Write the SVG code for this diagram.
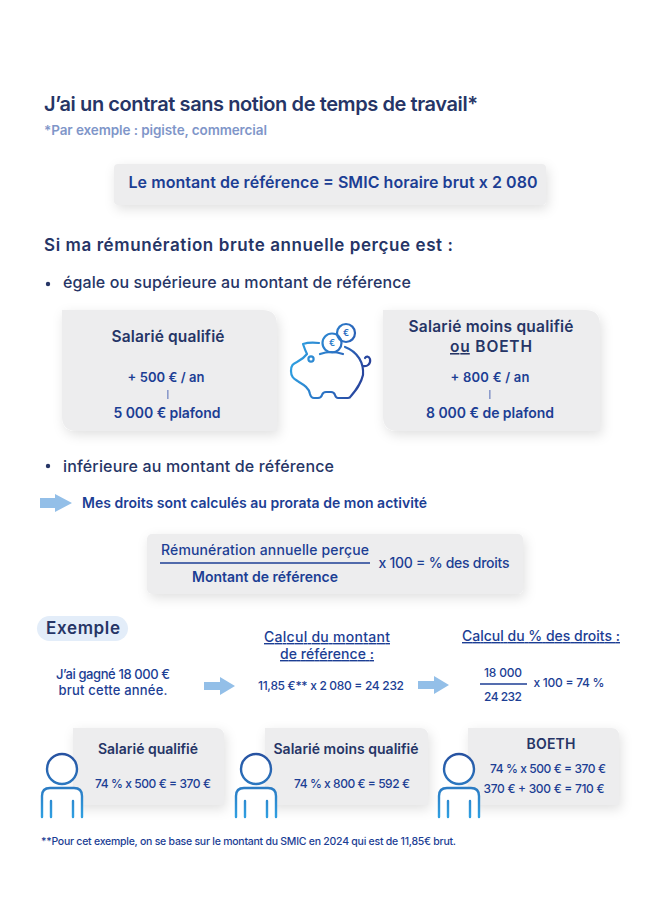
<svg xmlns="http://www.w3.org/2000/svg" width="660" height="910" viewBox="0 0 660 910">
<style>
text{font-family:"Inter","Noto Sans","Liberation Sans",sans-serif;font-weight:600;fill:#1c3e94;text-anchor:middle}
.h{fill:#263566}
.l{text-anchor:start}
.m{font-weight:500}
.box{fill:#ededee;filter:url(#sh)}
.rule{stroke:#1c3e94;fill:none}
.ar{fill:#93bfe8}
</style>
<defs>
<filter id="sh" x="-20%" y="-30%" width="140%" height="170%"><feDropShadow dx="2" dy="4" stdDeviation="6" flood-color="#000" flood-opacity=".12"/></filter>
<linearGradient id="pg" gradientUnits="userSpaceOnUse" x1="290" y1="360" x2="372" y2="385"><stop offset="0" stop-color="#2fa2e2"/><stop offset=".55" stop-color="#2a6cc0"/><stop offset="1" stop-color="#27358f"/></linearGradient>
<linearGradient id="pr" gradientUnits="userSpaceOnUse" x1="0" y1="818" x2="0" y2="752"><stop offset="0" stop-color="#2fa0e2"/><stop offset="1" stop-color="#27509f"/></linearGradient>
<g id="person" fill="#fff" stroke="url(#pr)" stroke-width="2.4" stroke-linecap="round" stroke-linejoin="round">
<circle cx="0" cy="769" r="15"/>
<path d="M-20 817V796Q-20 788-12 788H12Q20 788 20 796V817M-11 801V817M11 801V817"/>
</g>
</defs>
<rect width="660" height="910" fill="#fff"/>

<g id="title">
<text class="h l" x="44" y="111" font-size="20" textLength="434">J’ai un contrat sans notion de temps de travail*</text>
<text class="l" x="44" y="135" font-size="13.5" style="fill:#7f96c9" textLength="223">*Par exemple : pigiste, commercial</text>
</g>
<g id="reference">
<rect class="box" x="114" y="164" width="432" height="41" rx="4"/>
<text x="333" y="188" font-size="16" textLength="409">Le montant de référence = SMIC horaire brut x 2 080</text>
</g>
<g id="intro">
<text class="h l" x="44" y="251" font-size="17" textLength="409">Si ma rémunération brute annuelle perçue est :</text>
<circle cx="48" cy="284" r="2.2" fill="#263566"/>
<text class="h l m" x="63" y="288" font-size="16" textLength="348">égale ou supérieure au montant de référence</text>
</g>
<g id="card-qualifie">
<path class="box" d="M62 310H262Q277 310 277 325V431H77Q62 431 62 416Z"/>
<text class="h" x="168" y="342" font-size="15.5" textLength="113">Salarié qualifié</text>
<text x="166" y="382" font-size="13" textLength="77">+ 500 € / an</text>
<rect x="167" y="390" width="1.6" height="9" fill="#8c9bcb"/>
<text x="167" y="418" font-size="14" textLength="107">5 000 € plafond</text>
</g>
<g id="piggy" fill="none" stroke="url(#pg)" stroke-width="2.2" stroke-linecap="round" stroke-linejoin="round">
<circle cx="346" cy="333" r="9"/>
<circle cx="332" cy="343" r="9.5"/>
<path d="M320 354Q331 350 343 354"/>
<path d="M345 347C358 352 364 363 363 375C361 384 356 390 351 396Q350 398 348 398H338Q336 398 335 395Q334 392 331 392H326Q323 392 322 395Q321 398 318 398H314Q311 398 310 394C309 388 304 385 299 382C295 379 291 378 291 371C291 365 293 364 297 362C301 360 304 358 307 354C305 350 304 347 303 344Q309 342 319 343"/>
<path d="M363 366C367 367 371 364 370 359C369 356 366 356 365 358"/>
<circle cx="311" cy="359" r="2.6"/>
</g>
<text x="346" y="336" font-size="9" style="fill:#2a6cc0">€</text>
<text x="332" y="346" font-size="9" style="fill:#2a7cc8">€</text>
<g id="card-moins">
<path class="box" d="M383 310H585Q600 310 600 325V431H398Q383 431 383 416Z"/>
<text class="h" x="491" y="332" font-size="15.5" textLength="165">Salarié moins qualifié</text>
<text class="h" x="491" y="352" font-size="15.5" textLength="82"><tspan text-decoration="underline">ou</tspan> BOETH</text>
<text x="490" y="382" font-size="13" textLength="79">+ 800 € / an</text>
<rect x="489" y="390" width="1.6" height="9" fill="#8c9bcb"/>
<text x="490" y="418" font-size="14" textLength="128">8 000 € de plafond</text>
</g>
<g id="prorata">
<circle cx="48" cy="466" r="2.2" fill="#263566"/>
<text class="h l m" x="63" y="472" font-size="16" textLength="271">inférieure au montant de référence</text>
<path class="ar" d="M40 498H55V494L72 503L55 512V508H40Z"/>
<text class="l" x="82" y="508" font-size="14" textLength="345">Mes droits sont calculés au prorata de mon activité</text>
</g>
<g id="formule">
<rect class="box" x="147" y="534" width="376" height="60" rx="5"/>
<text x="265" y="555" font-size="14" class="m" textLength="208">Rémunération annuelle perçue</text>
<path class="rule" d="M160 563H370" stroke-width="1.6"/>
<text x="265" y="582" font-size="14" textLength="146">Montant de référence</text>
<text x="444" y="568" font-size="14" class="m" textLength="131">x 100 = % des droits</text>
</g>
<g id="exemple">
<rect x="37" y="616" width="91" height="25" rx="12.5" fill="#e3edf9"/>
<text class="h" x="83" y="634" font-size="17" textLength="74">Exemple</text>
<text x="113" y="679" font-size="13" class="m" textLength="114">J’ai gagné 18 000 €</text>
<text x="113" y="695" font-size="13" class="m" textLength="109">brut cette année.</text>
<path class="ar" d="M204 682H220V677L235 686L220 695V690H204Z"/>
<text x="327" y="642" font-size="14" class="m" text-decoration="underline" textLength="126">Calcul du montant</text>
<text x="327" y="659" font-size="14" class="m" text-decoration="underline" textLength="94">de référence :</text>
<text x="331" y="690" font-size="12" class="m" textLength="146">11,85 €** x 2 080 = 24 232</text>
<path class="ar" d="M418 681H434V676L449 685L434 694V689H418Z"/>
<text x="541" y="641" font-size="14" class="m" text-decoration="underline" textLength="158">Calcul du % des droits :</text>
<text x="503" y="677" font-size="12" class="m" textLength="38">18 000</text>
<path class="rule" d="M480 684H527" stroke-width="1.5"/>
<text x="503" y="701" font-size="12" class="m" textLength="38">24 232</text>
<text x="569" y="687" font-size="12" class="m" textLength="71">x 100 = 74 %</text>
</g>
<g id="ex1">
<path class="box" d="M73 728H216Q224 728 224 736V805H80Q73 805 73 798Z"/>
<text class="h" x="148" y="754" font-size="14" textLength="100">Salarié qualifié</text>
<text x="153" y="788" font-size="12" class="m" textLength="116">74 % x 500 € = 370 €</text>
<use href="#person" x="62"/>
</g>
<g id="ex2">
<path class="box" d="M265 728H420Q428 728 428 736V805H272Q265 805 265 798Z"/>
<text class="h" x="346" y="754" font-size="14" textLength="145">Salarié moins qualifié</text>
<text x="352" y="788" font-size="12" class="m" textLength="116">74 % x 800 € = 592 €</text>
<use href="#person" x="256"/>
</g>
<g id="ex3">
<path class="box" d="M468 728H611Q619 728 619 736V805H475Q468 805 468 798Z"/>
<text class="h" x="551" y="749" font-size="14" textLength="49">BOETH</text>
<text x="548" y="773" font-size="12" class="m" textLength="116">74 % x 500 € = 370 €</text>
<text x="544" y="793" font-size="12" class="m" textLength="121">370 € + 300 € = 710 €</text>
<use href="#person" x="459"/>
</g>
<text id="note" class="l m" x="41" y="845" font-size="10.5" textLength="415">**Pour cet exemple, on se base sur le montant du SMIC en 2024 qui est de 11,85€ brut.</text>
</svg>
